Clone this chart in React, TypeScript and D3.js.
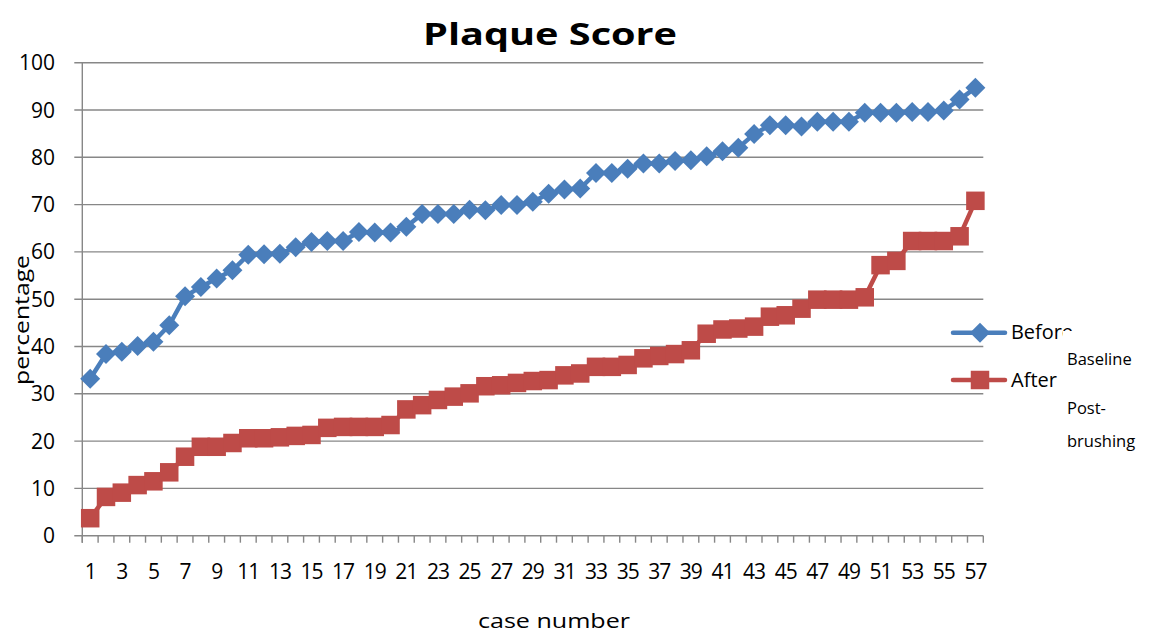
import React from "react";
import * as d3 from "d3";

const cases: number[] = Array.from({ length: 57 }, (_, i) => i + 1);
const beforeValues: number[] = [
  33.2, 38.4, 38.9, 40.1, 41.0, 44.5, 50.6, 52.6, 54.4, 56.1,
  59.4, 59.5, 59.6, 61.0, 62.1, 62.3, 62.3, 64.2, 64.1, 64.1,
  65.3, 68.0, 68.0, 68.0, 68.9, 68.8, 69.9, 69.9, 70.6, 72.3,
  73.2, 73.4, 76.7, 76.7, 77.6, 78.7, 78.7, 79.2, 79.4, 80.2,
  81.3, 82.0, 84.9, 86.8, 86.8, 86.5, 87.5, 87.5, 87.5, 89.4,
  89.4, 89.4, 89.6, 89.6, 89.9, 92.2, 94.7,
];
const afterValues: number[] = [
  3.7, 8.2, 9.1, 10.7, 11.5, 13.4, 16.7, 18.8, 18.8, 19.6,
  20.6, 20.6, 20.8, 21.1, 21.3, 22.8, 23.0, 23.0, 23.0, 23.4,
  26.7, 27.6, 28.7, 29.4, 30.1, 31.6, 31.8, 32.3, 32.7, 32.9,
  33.9, 34.3, 35.7, 35.7, 36.1, 37.5, 38.0, 38.4, 39.2, 42.7,
  43.6, 43.8, 44.2, 46.3, 46.6, 48.0, 49.9, 49.9, 49.9, 50.4,
  57.2, 58.1, 62.3, 62.3, 62.3, 63.3, 70.8,
];
const yTicks: number[] = [0, 10, 20, 30, 40, 50, 60, 70, 80, 90, 100];
const xTickLabels: number[] = cases.filter((c) => c % 2 === 1);

const BLUE = "#4A7EBB";
const RED = "#BE4B48";
const GRID = "#878787";
const FONT = "'Open Sans', 'Noto Sans', sans-serif";

export default function App() {
  const width = 1157;
  const height = 636;
  const left = 82.3;
  const right = 983.3;
  const top = 62.7;
  const bottom = 535.7;

  const x = d3.scaleBand<number>().domain(cases).range([left, right]).padding(0);
  const y = d3.scaleLinear().domain([0, 100]).range([bottom, top]);
  const cx = (c: number) => (x(c) as number) + x.bandwidth() / 2;

  const lineGen = d3
    .line<number>()
    .x((_, i) => cx(cases[i]))
    .y((v) => y(v));

  const diamond = (px: number, py: number, r: number) =>
    `M${px},${py - r}L${px + r},${py}L${px},${py + r}L${px - r},${py}Z`;

  const sq = 18.5;
  const boundaries = [...cases.map((c) => x(c) as number), right];

  return (
    <svg
      width={width}
      height={height}
      style={{ position: "absolute", left: 0, top: 0, background: "#fff" }}
    >
      <rect x={0} y={0} width={width} height={height} fill="#fff" />
      {yTicks.map((t) => (
        <line
          key={"g" + t}
          x1={left - 8}
          x2={right}
          y1={y(t)}
          y2={y(t)}
          stroke={GRID}
          strokeWidth={1.4}
        />
      ))}
      <line x1={left} x2={left} y1={top} y2={bottom + 7} stroke={GRID} strokeWidth={1.4} />
      {boundaries.map((b, i) => (
        <line key={"xt" + i} x1={b} x2={b} y1={bottom} y2={bottom + 7} stroke={GRID} strokeWidth={1.4} />
      ))}
      {yTicks.map((t) => (
        <text
          key={"yl" + t}
          x={55}
          y={y(t) + 7.5}
          textAnchor="end"
          fontFamily={FONT}
          fontSize={21}
          fill="#000"
        >
          {t}
        </text>
      ))}
      {xTickLabels.map((c) => (
        <text
          key={"xl" + c}
          x={cx(c)}
          y={579}
          textAnchor="middle"
          fontFamily={FONT}
          fontSize={21}
          fill="#000"
          letterSpacing={-1}
        >
          {c}
        </text>
      ))}
      <path d={lineGen(beforeValues) || ""} fill="none" stroke={BLUE} strokeWidth={4.5} strokeLinejoin="round" strokeLinecap="round" />
      {beforeValues.map((v, i) => (
        <path key={"b" + i} d={diamond(cx(cases[i]), y(v), 10)} fill={BLUE} />
      ))}
      <path d={lineGen(afterValues) || ""} fill="none" stroke={RED} strokeWidth={4.5} strokeLinejoin="round" strokeLinecap="round" />
      {afterValues.map((v, i) => (
        <rect
          key={"a" + i}
          x={cx(cases[i]) - sq / 2}
          y={y(v) - sq / 2}
          width={sq}
          height={sq}
          fill={RED}
        />
      ))}
      <text
        x={550}
        y={45}
        textAnchor="middle"
        fontFamily={FONT}
        fontWeight="bold"
        fontSize={31}
        textLength={254}
        lengthAdjust="spacingAndGlyphs"
        fill="#000"
      >
        Plaque Score
      </text>
      <text
        x={554}
        y={628}
        textAnchor="middle"
        fontFamily={FONT}
        fontSize={20}
        textLength={152}
        lengthAdjust="spacingAndGlyphs"
        fill="#000"
      >
        case number
      </text>
      <text
        transform="translate(29,320) rotate(-90)"
        textAnchor="middle"
        fontFamily={FONT}
        fontSize={20}
        textLength={130}
        lengthAdjust="spacingAndGlyphs"
        fill="#000"
      >
        percentage
      </text>
      <line x1={953} x2={1005} y1={332.7} y2={332.7} stroke={BLUE} strokeWidth={4.5} strokeLinecap="round" />
      <path d={diamond(980, 332.7, 10)} fill={BLUE} />
      <line x1={953} x2={1005} y1={380} y2={380} stroke={RED} strokeWidth={4.5} strokeLinecap="round" />
      <rect x={980 - sq / 2} y={380 - sq / 2} width={sq} height={sq} fill={RED} />
      <text x={1011} y={339} fontFamily={FONT} fontSize={20} fill="#000" textLength={62} lengthAdjust="spacingAndGlyphs">
        Before
      </text>
      <text x={1011} y={387} fontFamily={FONT} fontSize={20} fill="#000">
        After
      </text>
      <rect x={1063} y={331} width={94} height={122} fill="#fff" />
      <text x={1067} y={365} fontFamily={FONT} fontSize={16.5} fill="#000">
        Baseline
      </text>
      <text x={1067} y={414} fontFamily={FONT} fontSize={16.5} fill="#000">
        Post-
      </text>
      <text x={1067} y={447} fontFamily={FONT} fontSize={16.5} fill="#000">
        brushing
      </text>
    </svg>
  );
}
